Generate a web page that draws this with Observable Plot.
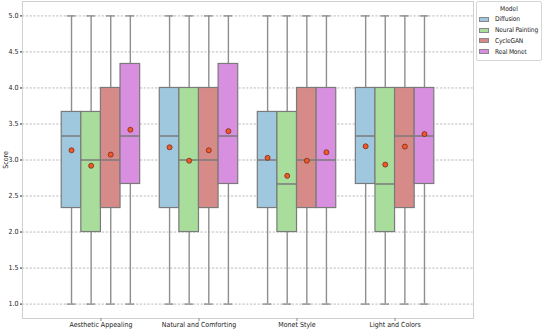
<!DOCTYPE html>
<html>
<head>
<meta charset="utf-8">
<script src="https://cdn.jsdelivr.net/npm/d3@7"></script>
<script src="https://cdn.jsdelivr.net/npm/@observablehq/plot@0.6"></script>
<style>
  html, body { margin: 0; padding: 0; background: #fff; }
  #wrap { position: relative; width: 544px; height: 331px; }
  #legend {
    position: absolute; left: 476px; top: 1px; width: 66px; height: 60px;
    border: 1px solid #d6d6d6; border-radius: 2px; background: #fff; box-sizing: border-box;
    font-family: "DejaVu Sans Condensed", "Liberation Sans Narrow", "DejaVu Sans", sans-serif;
    font-size: 6.6px; color: #222; white-space: nowrap; overflow: visible;
  }
  #legend .title { text-align: center; margin-top: 2px; height: 10px; line-height: 10px; }
  #legend .row { display: flex; align-items: center; height: 10.8px; padding-left: 2px; }
  #legend .sw { flex: none; width: 10px; height: 5px; margin-right: 6px; border: 0.8px solid #888; box-sizing: border-box; }
  #legend .lab { letter-spacing: -0.15px; }
</style>
</head>
<body>
<div id="wrap"><div id="chart"></div><div id="legend"></div></div>
<script>
const categories = ["Aesthetic Appealing", "Natural and Comforting", "Monet Style", "Light and Colors"];
const models = ["Diffusion", "Neural Painting", "CycleGAN", "Real Monet"];
const colors = ["#9fc8df", "#a8dd9c", "#d78b88", "#d98fdf"];
const yTicks = [1.0, 1.5, 2.0, 2.5, 3.0, 3.5, 4.0, 4.5, 5.0];

// per model, values for each category (in category order)
const whiskerLow = {
  "Diffusion":       [1, 1, 1, 1],
  "Neural Painting": [1, 1, 1, 1],
  "CycleGAN":        [1, 1, 1, 1],
  "Real Monet":      [1, 1, 1, 1]
};
const q1 = {
  "Diffusion":       [2.333, 2.333, 2.333, 2.667],
  "Neural Painting": [2.0, 2.0, 2.0, 2.0],
  "CycleGAN":        [2.333, 2.333, 2.333, 2.333],
  "Real Monet":      [2.667, 2.667, 2.333, 2.667]
};
const median = {
  "Diffusion":       [3.333, 3.333, 3.0, 3.333],
  "Neural Painting": [3.0, 3.0, 2.667, 2.667],
  "CycleGAN":        [3.0, 3.0, 3.0, 3.333],
  "Real Monet":      [3.333, 3.333, 3.0, 3.333]
};
const q3 = {
  "Diffusion":       [3.667, 4.0, 3.667, 4.0],
  "Neural Painting": [3.667, 4.0, 3.667, 4.0],
  "CycleGAN":        [4.0, 4.0, 4.0, 4.0],
  "Real Monet":      [4.333, 4.333, 4.0, 4.0]
};
const whiskerHigh = {
  "Diffusion":       [5, 5, 5, 5],
  "Neural Painting": [5, 5, 5, 5],
  "CycleGAN":        [5, 5, 5, 5],
  "Real Monet":      [5, 5, 5, 5]
};
const mean = {
  "Diffusion":       [3.135, 3.176, 3.03, 3.19],
  "Neural Painting": [2.92, 2.99, 2.78, 2.936],
  "CycleGAN":        [3.075, 3.135, 2.99, 3.186],
  "Real Monet":      [3.42, 3.40, 3.107, 3.36]
};

// Build table: group width 0.8 split among models
const boxW = 0.8 / models.length;
const rows = categories.flatMap((cat, ci) => models.map((m, mi) => {
  const xc = ci - 0.4 + boxW * (mi + 0.5);
  return {
    cat, model: m, xc, x1: xc - boxW / 2, x2: xc + boxW / 2,
    c1: xc - boxW * 0.22, c2: xc + boxW * 0.22,
    lo: whiskerLow[m][ci], q1: q1[m][ci], med: median[m][ci], q3: q3[m][ci],
    hi: whiskerHigh[m][ci], mean: mean[m][ci]
  };
}));

const fontFam = '"DejaVu Sans Condensed", "Liberation Sans Narrow", "DejaVu Sans", sans-serif';
const whiskerColor = "#8e8e8e";
const boxStroke = "#7a7a7a";

const chart = Plot.plot({
  width: 544,
  height: 331,
  marginLeft: 22,
  marginRight: 71,
  marginTop: 1,
  marginBottom: 13,
  style: { fontFamily: fontFam, fontSize: "7px", color: "#222", background: "#fff", overflow: "visible" },
  x: { domain: [-0.8, 3.8] },
  y: { domain: [0.8, 5.2] },
  color: { domain: models, range: colors },
  marks: [
    Plot.gridY(yTicks, { stroke: "#a8a8a8", strokeOpacity: 1, strokeWidth: 0.8, strokeDasharray: "2.2,1.6" }),
    Plot.frame({ stroke: "#d0d0d0", strokeWidth: 1 }),
    Plot.axisY({ ticks: yTicks, tickFormat: d3.format(".1f"), tickSize: 2, tickPadding: 2, label: "Score", labelAnchor: "center", labelArrow: "none", labelOffset: 19 }),
    Plot.axisX({ ticks: d3.range(categories.length), tickFormat: i => categories[i], tickSize: 3, tickPadding: 1, label: null, stroke: "#888" }),
    // whiskers
    Plot.ruleX(rows, { x: "xc", y1: "lo", y2: "q1", stroke: whiskerColor, strokeWidth: 1.4 }),
    Plot.ruleX(rows, { x: "xc", y1: "q3", y2: "hi", stroke: whiskerColor, strokeWidth: 1.4 }),
    Plot.ruleY(rows, { y: "lo", x1: "c1", x2: "c2", stroke: whiskerColor, strokeWidth: 1.4 }),
    Plot.ruleY(rows, { y: "hi", x1: "c1", x2: "c2", stroke: whiskerColor, strokeWidth: 1.4 }),
    // boxes
    Plot.rect(rows, { x1: "x1", x2: "x2", y1: "q1", y2: "q3", fill: "model", stroke: boxStroke, strokeWidth: 1.2 }),
    // medians
    Plot.ruleY(rows, { y: "med", x1: "x1", x2: "x2", stroke: boxStroke, strokeWidth: 1.5 }),
    // means
    Plot.dot(rows, { x: "xc", y: "mean", r: 2.5, fill: "#f05a28", stroke: "#7a2a18", strokeWidth: 0.8 })
  ]
});
document.getElementById("chart").appendChild(chart);

// legend
const lg = document.getElementById("legend");
const t = document.createElement("div");
t.className = "title"; t.textContent = "Model";
lg.appendChild(t);
models.forEach((m, i) => {
  const r = document.createElement("div");
  r.className = "row";
  const s = document.createElement("span");
  s.className = "sw"; s.style.background = colors[i];
  const l = document.createElement("span");
  l.className = "lab";
  l.textContent = m;
  r.appendChild(s); r.appendChild(l);
  lg.appendChild(r);
});
</script>
</body>
</html>
